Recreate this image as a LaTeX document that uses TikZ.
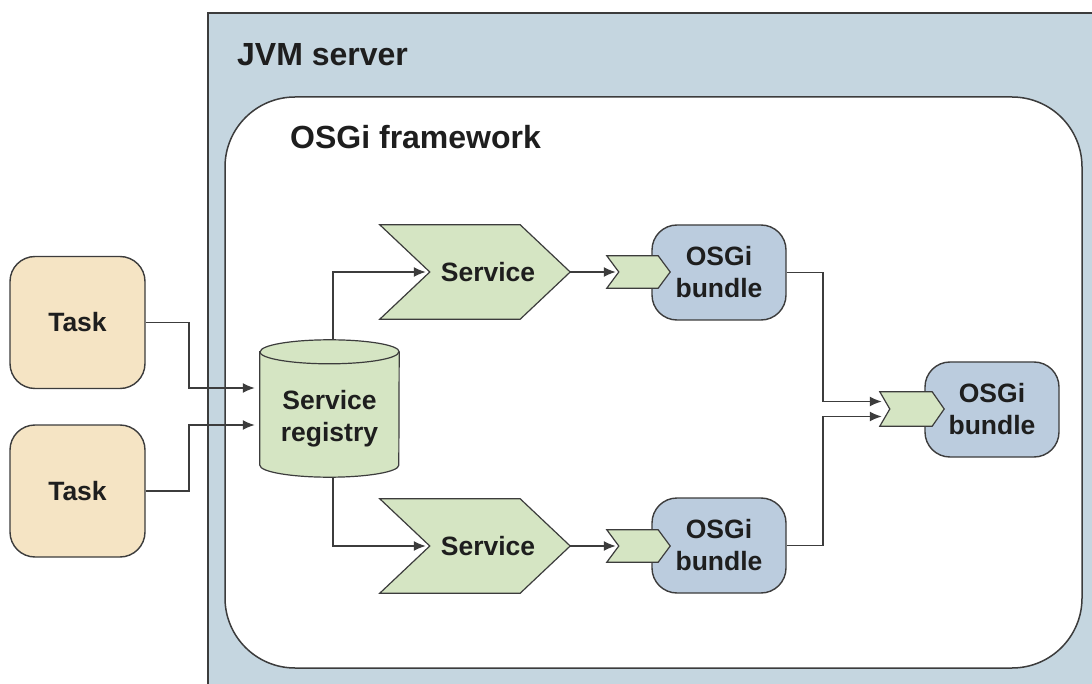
\documentclass[tikz,border=0pt]{standalone}
\usepackage{fontspec}
\setmainfont{Liberation Sans}
\usetikzlibrary{calc,arrows.meta}

\definecolor{jvmfill}{RGB}{197,214,224}
\definecolor{taskfill}{RGB}{245,228,196}
\definecolor{greenfill}{RGB}{213,229,195}
\definecolor{bundlefill}{RGB}{187,204,222}
\definecolor{edge}{RGB}{60,60,60}
\definecolor{ink}{RGB}{30,30,30}

\pgfdeclarelayer{bg}
\pgfdeclarelayer{mid}
\pgfsetlayers{bg,mid,main}

% chevron outline built on a node: notch depth #2 on the left, tip depth #3 on the right
\newcommand\chevronpath[3]{(#1.north west) -- ($(#1.north east)+(-#3,0)$) -- (#1.east)
  -- ($(#1.south east)+(-#3,0)$) -- (#1.south west) -- ($(#1.west)+(#2,0)$) -- cycle}

\tikzset{
  x=1pt, y=-1pt,
  lbl/.style={font=\bfseries\fontsize{26.5}{32}\selectfont, text=ink, align=center, inner sep=0pt},
  heading/.style={font=\bfseries\fontsize{32}{36}\selectfont, text=ink, inner sep=0pt},
  taskbox/.style={lbl, draw=edge, line width=1.4pt, fill=taskfill, rounded corners=25pt,
    minimum width=135pt, minimum height=132pt},
  bundlebox/.style={lbl, draw=edge, line width=1.4pt, fill=bundlefill, rounded corners=25pt,
    minimum width=134pt, minimum height=95pt},
  slot/.style={inner sep=0pt, minimum width=#1},
  shapeline/.style={draw=edge, line width=1.2pt, fill=greenfill},
  conn/.style={draw=edge, line width=1.6pt, -{Latex[length=12pt,width=10pt]}},
}

\begin{document}
\begin{tikzpicture}
\useasboundingbox (0,0) rectangle (1092,684);

% JVM server and OSGi framework containers
\begin{pgfonlayer}{bg}
  \begin{scope}
    \clip (0,0) rectangle (1092,684);
    \draw[draw=edge, line width=2pt, fill=jvmfill] (208,13) rectangle (1110,700);
  \end{scope}
  \draw[draw=edge, line width=1.5pt, fill=white, rounded corners=70pt] (225,97) rectangle (1082,668);
\end{pgfonlayer}

\node[heading, anchor=west] (jvmlabel) at (237,55) {JVM server};
\node[heading, anchor=west] (fwlabel) at (290,137) {OSGi framework};

% tasks
\node[taskbox] (t1) at (77.5,322.5) {Task};
\node[taskbox] (t2) at (77.5,491) {Task};

% service registry cylinder
\node[inner sep=0pt, minimum width=139pt, minimum height=125pt] (reg) at (329.5,414.5) {};
\node[lbl] (regtext) at (329.5,418.5) {Service\\registry};
\begin{pgfonlayer}{mid}
  \draw[shapeline] (reg.north west) -- ($(reg.south west)+(0,-12)$)
    arc[start angle=180, end angle=360, x radius=69.5pt, y radius=12pt]
    -- (reg.north east)
    arc[start angle=0, end angle=180, x radius=69.5pt, y radius=12pt] -- cycle;
  \draw[draw=edge, line width=1.2pt] (reg.north west)
    arc[start angle=180, end angle=360, x radius=69.5pt, y radius=12pt];
\end{pgfonlayer}

% services
\node[lbl, minimum width=190pt, minimum height=94pt] (svc1) at (475,272) {\hspace*{26pt}Service};
\node[lbl, minimum width=190pt, minimum height=94pt] (svc2) at (475,546) {\hspace*{26pt}Service};
\begin{pgfonlayer}{mid}
  \draw[shapeline] \chevronpath{svc1}{50}{50};
  \draw[shapeline] \chevronpath{svc2}{50}{50};
\end{pgfonlayer}

% bundles
\node[bundlebox] (b1) at (719,272.5) {OSGi\\bundle};
\node[bundlebox] (b2) at (719,545.5) {OSGi\\bundle};
\node[bundlebox] (b3) at (992,409.5) {OSGi\\bundle};

% bundle entry chevrons
\node[slot=63pt, minimum height=32pt] (c1) at (638.5,272) {};
\node[slot=63pt, minimum height=32pt] (c2) at (638.5,546) {};
\node[slot=64pt, minimum height=34pt] (c3) at (912,409) {};
\draw[shapeline] \chevronpath{c1}{12}{12};
\draw[shapeline] \chevronpath{c2}{12}{12};
\draw[shapeline] \chevronpath{c3}{10}{12};

% connectors
\draw[conn, shorten >=5pt] (t1.east) -- ++(43,0) |- ($(reg.west)+(0,-26.5)$);
\draw[conn, shorten >=5pt] (t2.east) -- ++(43,0) |- ($(reg.west)+(0,10.5)$);
\draw[conn, shorten >=4pt] ($(reg.north)+(3.5,-12)$) |- ($(svc1.west)+(50,0)$);
\draw[conn, shorten >=4pt] ($(reg.south)+(3.5,0)$) |- ($(svc2.west)+(50,0)$);
\draw[conn, shorten >=3pt] (svc1.east) -- ($(c1.west)+(12,0)$);
\draw[conn, shorten >=3pt] (svc2.east) -- ($(c2.west)+(12,0)$);
\draw[conn] (b1.east) -- ++(36,0) |- ($(c3.west)+(2,-7.5)$);
\draw[conn] (b2.east) -- ++(36,0) |- ($(c3.west)+(2,7.5)$);
\end{tikzpicture}
\end{document}
